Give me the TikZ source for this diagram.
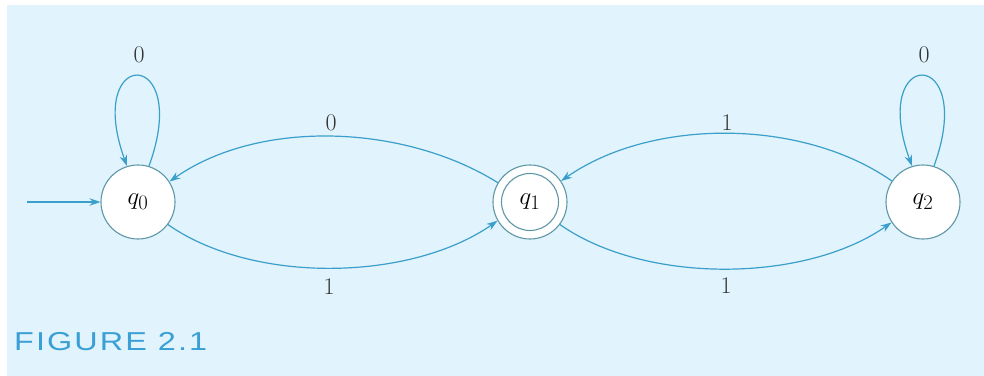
\documentclass[tikz,border=0pt]{standalone}
\usepackage{fontspec}
\usetikzlibrary{arrows.meta}
\newfontfamily\capfont[LetterSpace=8,FakeStretch=1.25]{Liberation Sans}
\definecolor{bgblue}{HTML}{E1F3FC}
\definecolor{edgeblue}{HTML}{3A9FCB}
\definecolor{ringcol}{HTML}{5E98A6}
\definecolor{capblue}{HTML}{3A9FD5}
\definecolor{labcol}{HTML}{333333}
\tikzset{
  x=1bp, y=1bp,
  state/.style={circle, draw=ringcol, fill=white, line width=1.1bp, minimum size=74bp, inner sep=0pt,
    font=\fontsize{29}{32}\selectfont},
  edge/.style={draw=edgeblue, line width=1.2bp, -{Stealth[length=11bp,width=7.5bp]}},
  elabel/.style={text=labcol, font=\fontsize{24}{28}\selectfont, inner sep=0pt}
}
\begin{document}
\begin{tikzpicture}
\useasboundingbox (0,0) rectangle (984,375);
\fill[bgblue] (7,-10) rectangle (995,370);

\node[state] (q0) at (138,173) {$q_0$};
\node[state] (q1) at (530,173) {};
\node[circle, draw=ringcol, line width=1.1bp, minimum size=57bp, inner sep=0pt, font=\fontsize{29}{32}\selectfont] (q1in) at (q1) {$q_1$};
\node[state] (q2) at (923,173) {$q_2$};

\coordinate (start) at (27,173);
\draw[edge] (start) -- (q0.west);

% self loops
\draw[edge] (q0.73) .. controls +(70:128) and +(110:128) .. (q0.107);
\draw[edge] (q2.73) .. controls +(70:128) and +(110:128) .. (q2.107);

% arcs
\draw[edge] (q1.149) .. controls +(148:110) and +(35:110) .. (q0.33);
\draw[edge] (q0.-37) .. controls +(-35:105) and +(-145:105) .. (q1.210);
\draw[edge] (q2.146) .. controls +(145:110) and +(35:110) .. (q1.34);
\draw[edge] (q1.-37) .. controls +(-35:105) and +(-145:105) .. (q2.213);

% labels
\node[elabel] (l0a) at (139,320) {0};
\node[elabel] (l0b) at (924,320) {0};
\node[elabel] (l0c) at (331,252) {0};
\node[elabel] (l1a) at (727,252) {1};
\node[elabel] (l1b) at (329,88) {1};
\node[elabel] (l1c) at (726,89) {1};

\node[anchor=base west, inner sep=0pt, text=capblue, font=\capfont\fontsize{26}{29}\selectfont] (cap) at (14,25) {FIGURE 2.1};
\end{tikzpicture}
\end{document}
